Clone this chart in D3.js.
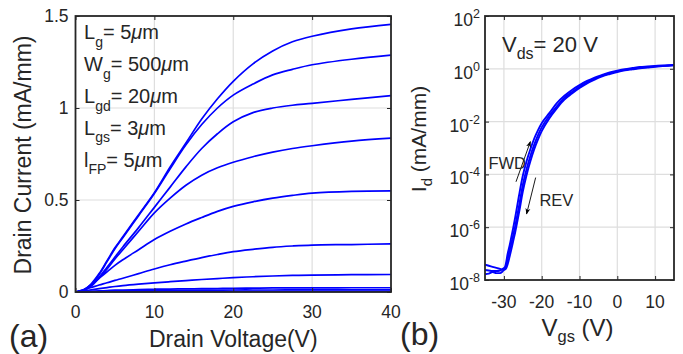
<!DOCTYPE html>
<html><head><meta charset="utf-8">
<script src="https://cdn.jsdelivr.net/npm/d3@7"></script>
<style>body{margin:0;background:#fff}svg{display:block}text{font-family:"Liberation Sans",Arial,sans-serif;fill:#262626}</style>
</head><body>
<svg id="c" width="683" height="354"></svg>
<script>
// ---------- Panel (a) data: output characteristics ----------
const vds = [0,1,2,3,4,5,6,8,10,12,14,16,18,20,22.5,25,27.5,30,35,40];
const id1 = [0,0.01,0.045,0.1,0.17,0.24,0.3,0.42,0.54,0.68,0.81,0.94,1.05,1.145,1.24,1.31,1.36,1.39,1.43,1.455];
const id2 = [0,0.01,0.04,0.095,0.165,0.235,0.295,0.415,0.535,0.67,0.8,0.91,1.0,1.07,1.13,1.18,1.21,1.235,1.265,1.287];
const id3 = [0,0.008,0.035,0.08,0.135,0.19,0.245,0.35,0.46,0.57,0.68,0.78,0.86,0.925,0.975,1.0,1.015,1.025,1.047,1.067];
const id4 = [0,0.008,0.033,0.075,0.125,0.18,0.23,0.33,0.43,0.51,0.58,0.635,0.675,0.705,0.735,0.76,0.78,0.795,0.82,0.836];
const id5 = [0,0.012,0.04,0.075,0.11,0.145,0.175,0.23,0.285,0.33,0.37,0.405,0.438,0.465,0.49,0.51,0.525,0.537,0.547,0.55];
const id6 = [0,0.012,0.025,0.038,0.05,0.063,0.075,0.1,0.125,0.148,0.168,0.187,0.204,0.219,0.232,0.243,0.25,0.255,0.258,0.262];
const id7 = [0,0.006,0.012,0.018,0.024,0.03,0.035,0.043,0.05,0.056,0.062,0.068,0.073,0.078,0.083,0.087,0.09,0.092,0.094,0.095];
const id8 = [0,0.002,0.004,0.006,0.008,0.01,0.011,0.013,0.015,0.016,0.017,0.018,0.019,0.02,0.021,0.022,0.022,0.022,0.023,0.023];
const id9 = [0,0.001,0.002,0.003,0.004,0.005,0.006,0.007,0.008,0.009,0.009,0.01,0.01,0.011,0.011,0.011,0.012,0.012,0.012,0.012];
const id10 = [0,0.0005,0.001,0.0012,0.0015,0.0018,0.002,0.0022,0.0025,0.0027,0.0028,0.003,0.003,0.003,0.0032,0.0033,0.0034,0.0035,0.0035,0.0036];
const seriesA = [id1,id2,id3,id4,id5,id6,id7,id8,id9,id10];
const xTicksA = [0,10,20,30,40];
const yTicksA = [0,0.5,1,1.5];
const yTickLabelsA = ["0","0.5","1","1.5"];

// ---------- Panel (b) data: transfer characteristics (log10 of Id) ----------
const vgs = [-35,-34,-33,-32,-31,-30.5,-30,-29.5,-29,-28.5,-28,-27.5,-27,-26,-25,-24,-23,-22,-21,-20,-18,-16,-14,-12,-10,-8,-6,-4,-2,0,2,4,6,8,10,12,15];
const logIdFwd = [-7.42,-7.46,-7.5,-7.54,-7.58,-7.6,-7.58,-7.4,-7.0,-6.7,-6.35,-6.0,-5.62,-4.8,-4.05,-3.5,-3.05,-2.65,-2.33,-2.06,-1.68,-1.3,-1.02,-0.8,-0.62,-0.46,-0.33,-0.23,-0.14,-0.07,-0.01,0.03,0.07,0.09,0.11,0.13,0.15];
const logIdMid = [-7.62,-7.64,-7.66,-7.66,-7.64,-7.6,-7.55,-7.5,-7.2,-6.9,-6.6,-6.28,-5.95,-5.2,-4.4,-3.8,-3.3,-2.88,-2.52,-2.22,-1.78,-1.42,-1.1,-0.88,-0.68,-0.51,-0.37,-0.26,-0.17,-0.1,-0.04,0.0,0.04,0.07,0.09,0.11,0.14];
const logIdRev = [-7.78,-7.76,-7.7,-7.74,-7.74,-7.7,-7.62,-7.58,-7.4,-7.12,-6.82,-6.5,-6.18,-5.45,-4.65,-4.02,-3.5,-3.05,-2.68,-2.36,-1.88,-1.5,-1.17,-0.94,-0.73,-0.55,-0.41,-0.29,-0.2,-0.12,-0.06,-0.02,0.02,0.05,0.08,0.1,0.13];
const seriesB = [logIdFwd, logIdMid, logIdRev];
const xTicksB = [-30,-20,-10,0,10];
const xTickLabelsB = ["-30","-20","-10","0","10"];
const yTicksB = [1e-8,1e-6,1e-4,1e-2,1e0,1e2];
const yExpB = ["-8","-6","-4","-2","0","2"];

const svg = d3.select("#c");
const BLUE = "#0000ff", AX = "#262626", GRID = "#dedede";

function rich(g, x, y, parts, size, opts={}) {
  const t = g.append("text").attr("x", x).attr("y", y).attr("font-size", size);
  if (opts.anchor) t.attr("text-anchor", opts.anchor);
  if (opts.transform) t.attr("transform", opts.transform);
  let shift = 0;
  parts.forEach(p => {
    const s = t.append("tspan").text(p.t);
    let target = 0;
    if (p.sub) { target = p.sub; s.attr("font-size", p.fs || size*0.72); }
    if (p.sup) { target = -p.sup; s.attr("font-size", p.fs || size*0.72); }
    if (p.it) s.attr("font-style", "italic");
    if (target !== shift) { s.attr("dy", target - shift); shift = target; }
  });
  return t;
}

// ================= Panel (a) =================
const A = {l:75.5, r:391, t:16, b:292};
const xA = d3.scaleLinear().domain([0,40]).range([A.l, A.r]);
const yA = d3.scaleLinear().domain([0,1.5]).range([A.b, A.t]);
const gA = svg.append("g");
gA.append("g").selectAll("line").data(xTicksA.slice(1,-1)).join("line")
  .attr("x1", d=>xA(d)).attr("x2", d=>xA(d)).attr("y1", A.t).attr("y2", A.b)
  .attr("stroke", GRID).attr("stroke-width", 1.2);
gA.append("g").selectAll("line").data(yTicksA.slice(1,-1)).join("line")
  .attr("y1", d=>yA(d)).attr("y2", d=>yA(d)).attr("x1", A.l).attr("x2", A.r)
  .attr("stroke", GRID).attr("stroke-width", 1.2);
const lineA = d3.line().x((d,i)=>xA(vds[i])).y(d=>yA(d)).curve(d3.curveCatmullRom.alpha(0.5));
gA.append("g").selectAll("path").data(seriesA).join("path")
  .attr("d", lineA).attr("fill","none").attr("stroke",BLUE).attr("stroke-width",1.7);
const axBA = d3.axisBottom(xA).tickValues(xTicksA).tickSize(-4).tickFormat("");
const axTA = d3.axisTop(xA).tickValues(xTicksA).tickSize(-4).tickFormat("");
const axLA = d3.axisLeft(yA).tickValues(yTicksA).tickSize(-4).tickFormat("");
const axRA = d3.axisRight(yA).tickValues(yTicksA).tickSize(-4).tickFormat("");
[[axBA,`translate(0,${A.b})`],[axTA,`translate(0,${A.t})`],[axLA,`translate(${A.l},0)`],[axRA,`translate(${A.r},0)`]].forEach(([ax,tr])=>{
  const g = gA.append("g").attr("transform",tr).call(ax);
  g.select(".domain").remove();
  g.selectAll("line").attr("stroke",AX).attr("stroke-width",1);
});
gA.append("rect").attr("x",A.l).attr("y",A.t).attr("width",A.r-A.l).attr("height",A.b-A.t)
  .attr("fill","none").attr("stroke",AX).attr("stroke-width",1.8);
gA.append("g").selectAll("text").data(xTicksA).join("text")
  .attr("x", d=>xA(d)).attr("y", A.b+25.5).attr("text-anchor","middle").attr("font-size",17.5).text(d=>d);
gA.append("g").selectAll("text").data(yTicksA).join("text")
  .attr("x", A.l-7).attr("y", d=>yA(d)+6).attr("text-anchor","end").attr("font-size",17.5).text((d,i)=>yTickLabelsA[i]);
gA.append("text").attr("x", (A.l+A.r)/2).attr("y", 346.5).attr("text-anchor","middle").attr("font-size",23).text("Drain Voltage(V)");
gA.append("text").attr("transform",`translate(31,${(A.t+A.b)/2+1}) rotate(-90)`).attr("text-anchor","middle").attr("font-size",23).text("Drain Current (mA/mm)");
svg.append("text").attr("x",9).attr("y",347).attr("font-size",32).text("(a)");
const ann = [["L","g","= 5"],["W","g","= 500"],["L","gd","= 20"],["L","gs","= 3"],["l","FP","= 5"]];
ann.forEach((a,i)=>{
  rich(gA, A.l+8.5, 39.3 + i*31.85, [{t:a[0]},{t:a[1],sub:7.5,fs:14},{t:a[2],sub:0},{t:"μ",it:true},{t:"m"}], 20);
});

// ================= Panel (b) =================
const B = {l:485, r:674, t:16, b:280};
const xB = d3.scaleLinear().domain([-35,15]).range([B.l, B.r]);
const yB = d3.scaleLog().domain([1e-8,1e2]).range([B.b, B.t]);
const gB = svg.append("g");
gB.append("g").selectAll("line").data(xTicksB).join("line")
  .attr("x1", d=>xB(d)).attr("x2", d=>xB(d)).attr("y1", B.t).attr("y2", B.b)
  .attr("stroke", GRID).attr("stroke-width", 1.2);
gB.append("g").selectAll("line").data(yTicksB.slice(1,-1)).join("line")
  .attr("y1", d=>yB(d)).attr("y2", d=>yB(d)).attr("x1", B.l).attr("x2", B.r)
  .attr("stroke", GRID).attr("stroke-width", 1.2);
const lineB = d3.line().x((d,i)=>xB(vgs[i])).y(d=>yB(Math.pow(10,d))).curve(d3.curveMonotoneX);
gB.append("g").selectAll("path").data(seriesB).join("path")
  .attr("d", lineB).attr("fill","none").attr("stroke",BLUE).attr("stroke-width",1.9);
const axBB = d3.axisBottom(xB).tickValues(xTicksB).tickSize(-4).tickFormat("");
const axTB = d3.axisTop(xB).tickValues(xTicksB).tickSize(-4).tickFormat("");
const axLB = d3.axisLeft(yB).tickValues(yTicksB).tickSize(-4).tickFormat("");
const axRB = d3.axisRight(yB).tickValues(yTicksB).tickSize(-4).tickFormat("");
[[axBB,`translate(0,${B.b})`],[axTB,`translate(0,${B.t})`],[axLB,`translate(${B.l},0)`],[axRB,`translate(${B.r},0)`]].forEach(([ax,tr])=>{
  const g = gB.append("g").attr("transform",tr).call(ax);
  g.select(".domain").remove();
  g.selectAll("line").attr("stroke",AX).attr("stroke-width",1);
});
gB.append("rect").attr("x",B.l).attr("y",B.t).attr("width",B.r-B.l).attr("height",B.b-B.t)
  .attr("fill","none").attr("stroke",AX).attr("stroke-width",1.8);
gB.append("g").selectAll("text").data(xTicksB).join("text")
  .attr("x", d=>xB(d)).attr("y", B.b+27.5).attr("text-anchor","middle").attr("font-size",17.5).text((d,i)=>xTickLabelsB[i]);
yTicksB.forEach((d,i)=>{
  rich(gB, B.l-5, yB(d)+10, [{t:"10"},{t:yExpB[i],sup:8,fs:12.5}], 17.5, {anchor:"end"});
});
rich(gB, (B.l+B.r)/2 - 38, 335.7, [{t:"V"},{t:"gs",sub:6,fs:16.5},{t:" (V)",sub:0}], 24);
rich(gB, 0, 0, [{t:"I"},{t:"d",sub:6,fs:15},{t:" (mA/mm)",sub:0}], 21, {anchor:"middle", transform:`translate(426,139) rotate(-90)`});
svg.append("text").attr("x",400).attr("y",345).attr("font-size",32).text("(b)");
rich(gB, xB(-30.5), yB(Math.pow(10,0.65)), [{t:"V"},{t:"ds",sub:7,fs:16},{t:"= 20 V",sub:0}], 22);
const defs = svg.append("defs");
defs.append("marker").attr("id","ah").attr("viewBox","0 0 10 10").attr("refX",9).attr("refY",5)
  .attr("markerWidth",7).attr("markerHeight",7).attr("orient","auto")
  .append("path").attr("d","M0,1 L10,5 L0,9 L3,5 Z").attr("fill","#000");
const arrows = [{x1:-26.8,l1:-4.28,x2:-23.0,l2:-2.76},{x1:-21.6,l1:-4.12,x2:-24.0,l2:-5.5}];
gB.append("g").selectAll("line").data(arrows).join("line")
  .attr("x1",d=>xB(d.x1)).attr("y1",d=>yB(Math.pow(10,d.l1)))
  .attr("x2",d=>xB(d.x2)).attr("y2",d=>yB(Math.pow(10,d.l2)))
  .attr("stroke","#000").attr("stroke-width",0.9).attr("marker-end","url(#ah)");
gB.append("text").attr("x", xB(-34.1)).attr("y", yB(Math.pow(10,-3.8))).attr("font-size",16.5).text("FWD");
gB.append("text").attr("x", xB(-20.6)).attr("y", yB(Math.pow(10,-5.2))).attr("font-size",16.5).text("REV");
</script>
</body></html>
